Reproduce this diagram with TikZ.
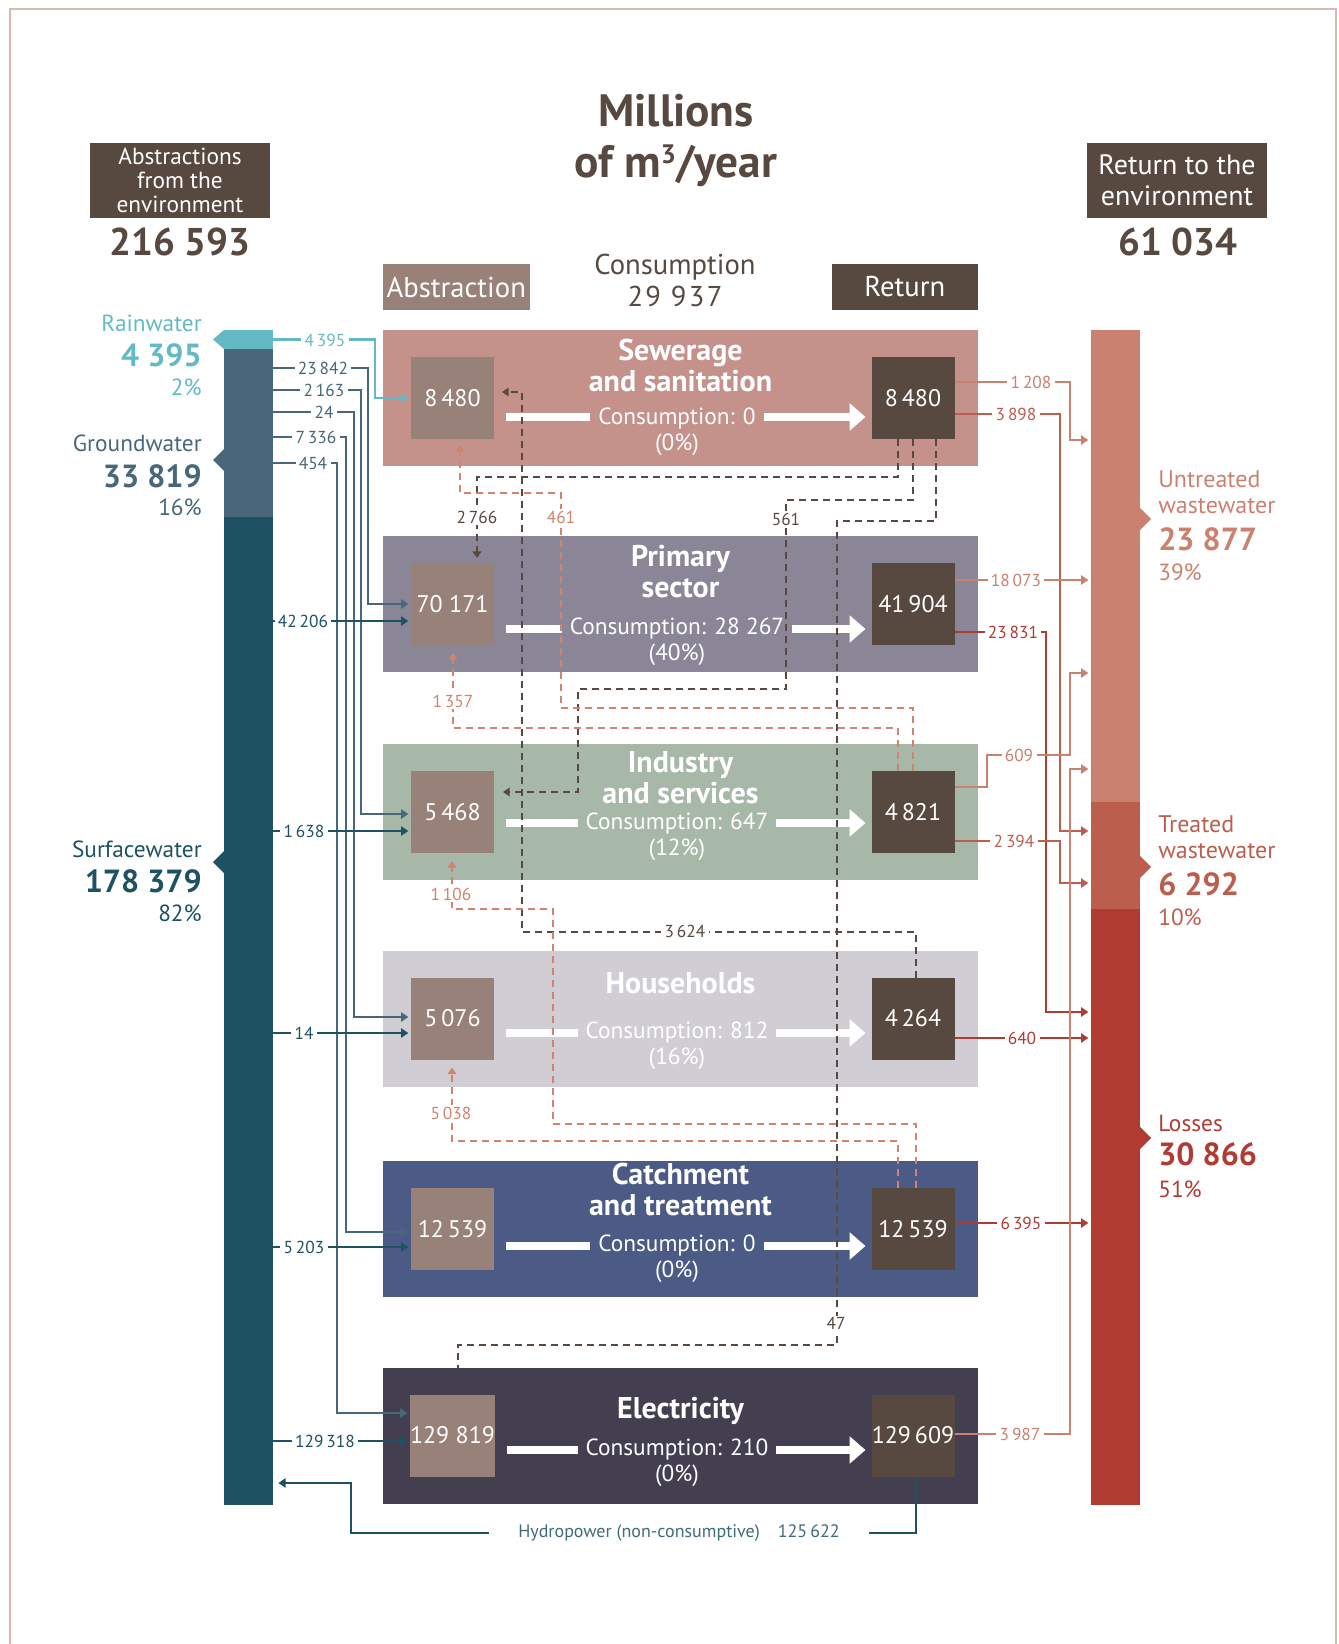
\documentclass[tikz,border=0pt]{standalone}
\usepackage{fontspec}
\setmainfont{PT Sans}
\usetikzlibrary{arrows.meta}

% one pixel of the layout
\newlength\pix
\setlength\pix{0.75pt}

\definecolor{brownc}{HTML}{574840}
\definecolor{absc}{HTML}{978178}
\definecolor{rainc}{HTML}{63BAC6}
\definecolor{gwc}{HTML}{48677A}
\definecolor{swc}{HTML}{1E5262}
\definecolor{untc}{HTML}{CA8170}
\definecolor{trtc}{HTML}{BC5E4D}
\definecolor{losc}{HTML}{B03B31}
\definecolor{dashc}{HTML}{D0836E}
\definecolor{framec}{HTML}{D8BAB3}
\definecolor{bandse}{HTML}{C4918B}
\definecolor{bandps}{HTML}{8A8697}
\definecolor{bandis}{HTML}{A7B8A9}
\definecolor{bandhh}{HTML}{D0CDD4}
\definecolor{bandct}{HTML}{4B5B86}
\definecolor{bandel}{HTML}{433F51}

\tikzset{
  band/.style={minimum width=595\pix, minimum height=136\pix, inner sep=0pt, outer sep=0pt},
  numbox/.style={minimum width=83\pix, minimum height=82\pix, inner sep=0pt, outer sep=0pt,
    text=white, font=\fontsize{18}{20}\selectfont},
  hdbox/.style={fill=brownc, text=white, inner sep=0pt, align=center},
  bar/.style={minimum width=49\pix, inner sep=0pt, outer sep=0pt},
  ttl/.style={text=white, font=\bfseries\fontsize{22.5}{23.25}\selectfont, align=center, inner sep=0pt},
  cons/.style={text=white, font=\fontsize{17.5}{19.5}\selectfont, align=center, inner xsep=6pt, inner ysep=0pt},
  warrow/.style={white, line width=6pt, -{Triangle[width=20pt,length=12pt]}, shorten <=9pt, shorten >=4.5pt},
  flow/.style={line width=2.1pt, -{Triangle[width=7pt,length=5.5pt]}, shorten >=2pt},
  dline/.style={line width=1.9pt, dash pattern=on 5pt off 4pt},
  dflow/.style={dline, -{Triangle[width=6.5pt,length=5pt]}},
  flbl/.style={fill=white, inner xsep=2.5pt, inner ysep=1pt, font=\fontsize{13}{14}\selectfont},
  sidelbl/.style={font=\fontsize{17.5}{20}\selectfont, inner sep=0pt},
  sideval/.style={font=\bfseries\fontsize{24}{26}\selectfont, inner sep=0pt},
}

\begin{document}
\begin{tikzpicture}[x=0.75pt, y=-0.75pt]
  \useasboundingbox (0,0) rectangle (1338,1644);
  \draw[framec, line width=1.2pt] (10,1644) -- (10,9) -- (1336,9) -- (1336,1644);

  % Headings
  \node[text=brownc, font=\bfseries\fontsize{34}{38}\selectfont, align=center] (title) at (676,140.5)
    {Millions\\of m\raisebox{10pt}{\fontsize{20}{20}\selectfont 3}/year};
  \node[hdbox, minimum width=179.5\pix, minimum height=75.5\pix, font=\fontsize{17.5}{17.8}\selectfont]
    (absenv) at (180,180.3) {Abstractions\\from the\\environment};
  \node[text=brownc, font=\bfseries\fontsize{29}{30}\selectfont] (abstot) at (180,242) {216 593};
  \node[hdbox, minimum width=180\pix, minimum height=75.5\pix, font=\fontsize{21}{23.3}\selectfont]
    (retenv) at (1177,180.3) {Return to the\\environment};
  \node[text=brownc, font=\bfseries\fontsize{29}{30}\selectfont] (rettot) at (1178,242) {61 034};
  \node[fill=absc, text=white, minimum width=146.5\pix, minimum height=46\pix, inner sep=0pt,
    font=\fontsize{21.5}{22}\selectfont] (abshd) at (456.25,287) {Abstraction};
  \node[fill=brownc, text=white, minimum width=146.5\pix, minimum height=46\pix, inner sep=0pt,
    font=\fontsize{21.5}{22}\selectfont] (rethd) at (904.75,287) {Return};
  \node[text=brownc, align=center, font=\fontsize{21.5}{24}\selectfont] (conshd) at (675,280)
    {Consumption\\{\addfontfeature{LetterSpace=8}29 937}};

  % Sectors: band, abstraction box, return box
  \foreach \n/\yc/\ttl/\ty/\cons/\cy/\wy/\ab/\re in {
    se/398/{Sewerage\\and sanitation}/365/{Consumption: 0\\(0\%)}/431.5/417/{8\,480}/{8\,480},
    ps/604/{Primary\\sector}/571.5/{Consumption: 28 267\\(40\%)}/642/629/{70 171}/{41\,904},
    is/812/{Industry\\and services}/777.5/{Consumption: 647\\(12\%)}/836.5/823/{5\,468}/{4\,821},
    hh/1018.5/{Households}/983.6/{Consumption: 812\\(16\%)}/1046/1033/{5\,076}/{4\,264},
    ct/1229/{Catchment\\and treatment}/1189.5/{Consumption: 0\\(0\%)}/1258.5/1246/{12\,539}/{12\,539},
    el/1435.5/{Electricity}/1411/{Consumption: 210\\(0\%)}/1463/1450/{129 819}/{129\,609}} {
    \node[band, fill=band\n] (\n) at (680.5,\yc) {};
    \node[numbox, fill=absc] (a\n) at (452.5,\yc) {\ab};
    \node[numbox, fill=brownc] (r\n) at (913,\yc) {\re};
    \draw[warrow] (a\n.east |- 0,\wy) -- (r\n.west |- 0,\wy);
    \node[cons, fill=band\n] (c\n) at (677,\cy) {\cons};
    \node[ttl] (t\n) at (680.5,\ty) {\ttl};
  }

  % Exchanges between sectors
  \draw[dflow, brownc, shorten >=3.75pt] (rse.south -| 898,0) |- (477,477) -- (aps.north -| 477,0);
  \draw[dflow, brownc, shorten >=6.75pt] (rse.south -| 913,0) |- (786,500) |- (578,689) |- (ais.east |- 0,792);
  \draw[dflow, brownc, shorten >=6pt] (rhh.north -| 916,0) |- (522,932) |- (ase.east |- 0,392);
  \draw[dline, brownc] (rse.south -| 936,0) |- (837,521) |- (458,1345) -- (el.north -| 458,0);
  \draw[dflow, dashc, shorten >=4.5pt] (ris.north -| 913,0) |- (561,708) |- (460,493) -- (ase.south -| 460,0);
  \draw[dflow, dashc, shorten >=6pt] (ris.north -| 898,0) |- (453,728) -- (aps.south -| 453,0);
  \draw[dflow, dashc, shorten >=6pt] (rct.north -| 916,0) |- (553,1124) |- (452,909) -- (ais.south -| 452,0);
  \draw[dflow, dashc, shorten >=6pt] (rct.north -| 898,0) |- (452,1141) -- (ahh.south -| 452,0);
  \foreach \x/\y/\lbl [count=\k] in {477/517/{2\,766}, 786/519/561, 685/931/{3\,624}, 836/1323/47}
    \node[flbl, text=brownc] (dk\k) at (\x,\y) {\lbl};
  \foreach \x/\y/\lbl [count=\k] in {561/517/461, 453/701/{1\,357}, 451/894/{1\,106}, 451/1113/{5\,038}}
    \node[flbl, text=dashc] (ds\k) at (\x,\y) {\lbl};

  % Sources (left bar)
  \node[bar, fill=rainc, minimum height=19\pix] (rainbar) at (248.5,339.5) {};
  \node[bar, fill=gwc, minimum height=168\pix] (gwbar) at (248.5,433) {};
  \node[bar, fill=swc, minimum height=988\pix] (swbar) at (248.5,1011) {};
  \fill[rainc] (rainbar.north west) -- (213,339.5) -- (rainbar.south west) -- cycle;
  \fill[gwc] (224,449) -- (213,460) -- (224,471) -- cycle;
  \fill[swc] (224,851) -- (213,862) -- (224,873) -- cycle;
  \foreach \nm/\ny/\val/\pc/\col [count=\k] in {Rainwater/323/{4 395}/{2\%}/rainc,
      Groundwater/443.5/{33 819}/{16\%}/gwc, Surfacewater/849/{178 379}/{82\%}/swc} {
    \node[sidelbl, text=\col, anchor=east] (sn\k) at (202,\ny) {\nm};
    \node[sideval, text=\col, anchor=east] (sv\k) at (202,\ny+32.5) {\val};
    \node[sidelbl, text=\col, anchor=east] (sp\k) at (202,\ny+64) {\pc};
  }

  % Abstractions
  \draw[flow, rainc] (rainbar.east) -| (375,398) -- (ase.west |- 0,398);
  \node[flbl, text=rainc] (lrain) at (325,340) {4\,395};
  \foreach \ys/\lbl/\lx/\xv/\trg/\yt [count=\k] in {368/{23\,842}/323/368/aps/604,
      390/{2\,163}/324/361/ais/814, 412/24/324/354/ahh/1017,
      437/{7\,336}/316/346/act/1232, 463/454/313/337/ael/1413} {
    \draw[flow, gwc] (gwbar.east |- 0,\ys) -| (\xv,\yt) -- (\trg.west |- 0,\yt);
    \node[flbl, text=gwc] (lg\k) at (\lx,\ys) {\lbl};
  }
  \foreach \lbl/\lx/\trg/\yt [count=\k] in {{42\,206}/303/aps/621, {1\,638}/304/ais/831,
      14/304/ahh/1033, {5\,203}/304/act/1247, {129\,318}/325/ael/1441} {
    \draw[flow, swc] (swbar.east |- 0,\yt) -- (\trg.west |- 0,\yt);
    \node[flbl, text=swc] (ls\k) at (\lx,\yt) {\lbl};
  }

  % Hydropower back to the river
  \draw[flow, swc, shorten >=4pt] (rel.south -| 916,0) |- (351,1533) |- (swbar.east |- 0,1483);
  \node[flbl, text=swc!85!white, inner xsep=22pt, font=\fontsize{13.5}{14}\selectfont] (hydro) at (679,1533)
    {Hydropower (non-consumptive)\quad 125\,622};

  % Returns (right bar)
  \node[bar, fill=untc, minimum height=472\pix] (untbar) at (1115.5,566) {};
  \node[bar, fill=trtc, minimum height=107\pix] (trtbar) at (1115.5,855.5) {};
  \node[bar, fill=losc, minimum height=596\pix] (losbar) at (1115.5,1207) {};
  \fill[untc] (1140,508) -- (1151,519) -- (1140,530) -- cycle;
  \fill[trtc] (1140,856) -- (1151,867) -- (1140,878) -- cycle;
  \fill[losc] (1140,1127) -- (1151,1138) -- (1140,1149) -- cycle;
  \node[sidelbl, text=untc, anchor=west, align=left, font=\fontsize{18}{19.5}\selectfont] (rn1) at (1158,492) {Untreated\\wastewater};
  \node[sideval, text=untc, anchor=west] (rv1) at (1158,539) {23 877};
  \node[sidelbl, text=untc, anchor=west] (rp1) at (1158,572.5) {39\%};
  \node[sidelbl, text=trtc, anchor=west, align=left, font=\fontsize{18}{19.5}\selectfont] (rn2) at (1158,837) {Treated\\wastewater};
  \node[sideval, text=trtc, anchor=west] (rv2) at (1158,884) {6 292};
  \node[sidelbl, text=trtc, anchor=west] (rp2) at (1158,917.5) {10\%};
  \node[sidelbl, text=losc, anchor=west] (rn3) at (1158,1123) {Losses};
  \node[sideval, text=losc, anchor=west] (rv3) at (1158,1154.5) {30 866};
  \node[sidelbl, text=losc, anchor=west] (rp3) at (1158,1189) {51\%};

  \foreach \src/\ys/\lbl/\lx/\xv/\yt/\col/\trg [count=\k] in {
      rse/382/{1\,208}/1031/1070/440/untc/untbar, rse/414/{3\,898}/1016/1060/831/trtc/trtbar,
      rps/580/{18\,073}/1016/1070/580/untc/untbar, rps/632/{23\,831}/1013/1046/1012/losc/losbar,
      ris/841/{2\,394}/1014/1060/883/trtc/trtbar, rhh/1038/640/1022/1070/1038/losc/losbar,
      rct/1223/{6\,395}/1021/1070/1223/losc/losbar, rel/1434/{3\,987}/1020/1070/769/untc/untbar} {
    \draw[flow, \col] (\src.east |- 0,\ys) -| (\xv,\yt) -- (\trg.west |- 0,\yt);
    \node[flbl, text=\col] (lr\k) at (\lx,\ys) {\lbl};
  }
  \draw[flow, untc] (ris.east |- 0,787) -| (987,755) -| (1070,673) -- (untbar.west |- 0,673);
  \node[flbl, text=untc] (lr9) at (1019,755) {609};
\end{tikzpicture}
\end{document}
